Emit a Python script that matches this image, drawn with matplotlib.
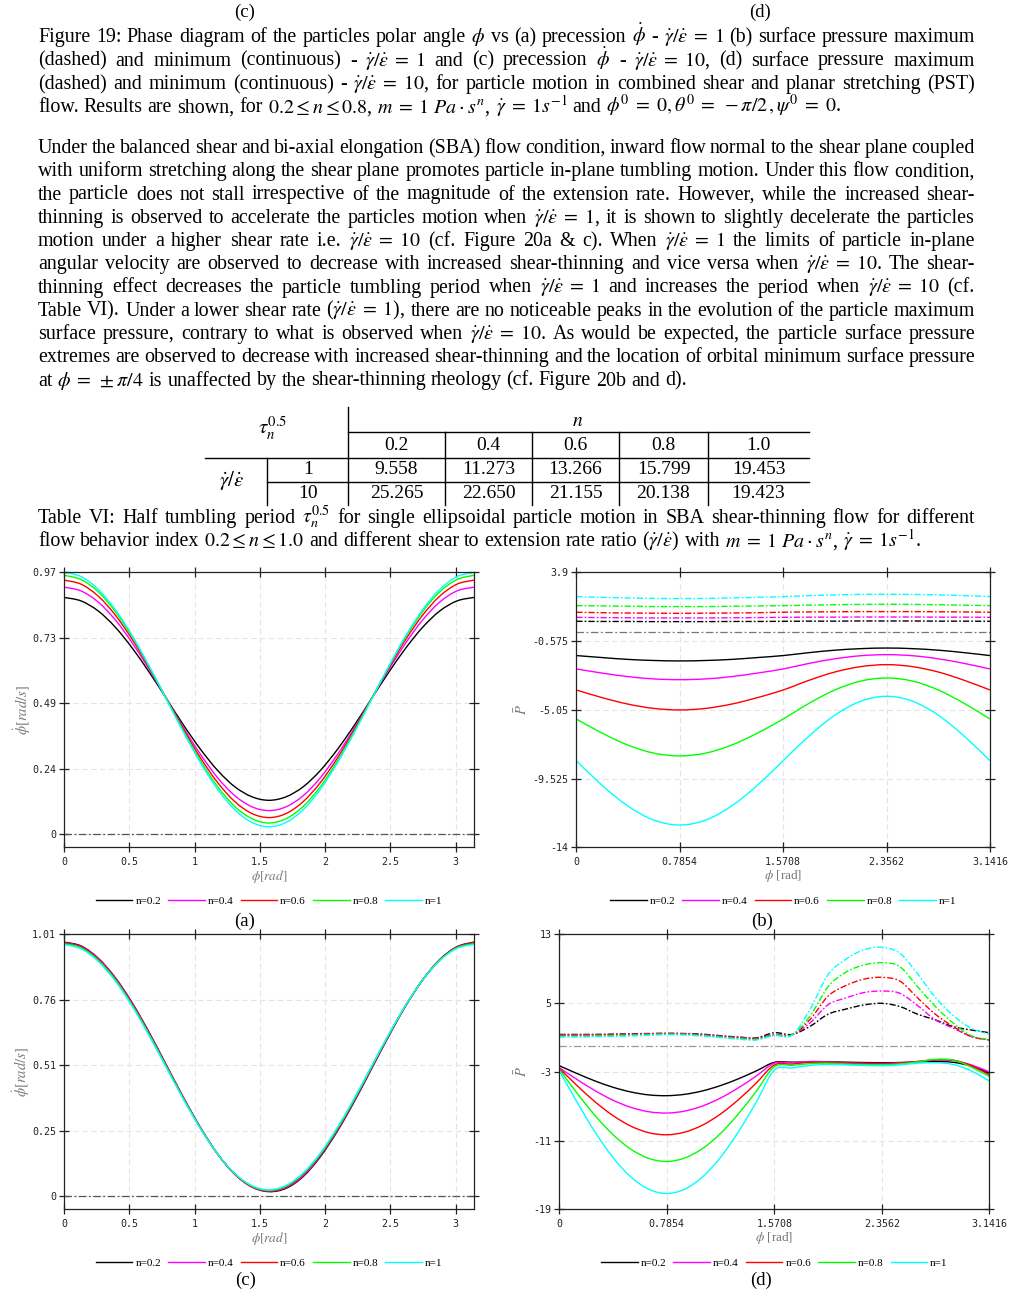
import numpy as np
import matplotlib.pyplot as plt
from matplotlib.path import Path
from matplotlib.patches import PathPatch

plt.rcParams['mathtext.fontset'] = 'stix'
plt.rcParams['font.family'] = ['Liberation Serif', 'DejaVu Serif']

W, H = 1020, 1293

# x positions (phi in rad)
phi25 = np.linspace(0, np.pi, 25)
phi17 = np.linspace(0, np.pi, 17)

n_labels = ['n=0.2', 'n=0.4', 'n=0.6', 'n=0.8', 'n=1']
n_colors = ['#000000', '#ff00ff', '#ff0000', '#00ff00', '#00ffff']

# (a) precession, gamma/eps = 1
a_n02 = [0.877, 0.864, 0.827, 0.767, 0.689, 0.599, 0.502, 0.404, 0.314, 0.236, 0.176, 0.139, 0.126,
         0.139, 0.176, 0.236, 0.314, 0.404, 0.502, 0.599, 0.689, 0.767, 0.827, 0.864, 0.877]
a_n04 = [0.915, 0.901, 0.860, 0.794, 0.708, 0.609, 0.502, 0.394, 0.295, 0.209, 0.143, 0.102, 0.088,
         0.102, 0.143, 0.209, 0.295, 0.394, 0.502, 0.609, 0.708, 0.794, 0.860, 0.901, 0.915]
a_n06 = [0.941, 0.926, 0.882, 0.812, 0.721, 0.615, 0.502, 0.388, 0.282, 0.191, 0.121, 0.077, 0.062,
         0.077, 0.121, 0.191, 0.282, 0.388, 0.502, 0.615, 0.721, 0.812, 0.882, 0.926, 0.941]
a_n08 = [0.959, 0.943, 0.898, 0.825, 0.730, 0.619, 0.501, 0.382, 0.271, 0.176, 0.103, 0.058, 0.042,
         0.058, 0.103, 0.176, 0.271, 0.382, 0.501, 0.619, 0.730, 0.825, 0.898, 0.943, 0.959]
a_n10 = [0.970, 0.954, 0.907, 0.832, 0.735, 0.621, 0.499, 0.377, 0.264, 0.166, 0.091, 0.044, 0.028,
         0.044, 0.091, 0.166, 0.264, 0.377, 0.499, 0.621, 0.735, 0.832, 0.907, 0.954, 0.970]

# (c) precession, gamma/eps = 10
c_n02 = [0.980, 0.965, 0.918, 0.843, 0.745, 0.630, 0.505, 0.380, 0.264, 0.163, 0.085, 0.036, 0.018,
         0.031, 0.076, 0.152, 0.251, 0.366, 0.491, 0.616, 0.734, 0.834, 0.913, 0.962, 0.980]
c_n04 = [0.978, 0.963, 0.917, 0.841, 0.743, 0.628, 0.503, 0.379, 0.263, 0.162, 0.085, 0.036, 0.020,
         0.034, 0.079, 0.156, 0.255, 0.370, 0.494, 0.618, 0.734, 0.834, 0.911, 0.960, 0.978]
c_n06 = [0.977, 0.961, 0.914, 0.838, 0.740, 0.625, 0.501, 0.377, 0.261, 0.162, 0.085, 0.037, 0.021,
         0.036, 0.084, 0.159, 0.258, 0.373, 0.497, 0.621, 0.736, 0.836, 0.912, 0.960, 0.977]
c_n08 = [0.974, 0.958, 0.910, 0.835, 0.736, 0.622, 0.499, 0.375, 0.261, 0.162, 0.087, 0.039, 0.023,
         0.039, 0.087, 0.162, 0.261, 0.375, 0.499, 0.622, 0.736, 0.835, 0.910, 0.958, 0.974]
c_n10 = [0.971, 0.954, 0.906, 0.830, 0.732, 0.617, 0.495, 0.373, 0.260, 0.163, 0.088, 0.041, 0.025,
         0.042, 0.090, 0.166, 0.265, 0.379, 0.501, 0.623, 0.737, 0.834, 0.909, 0.956, 0.971]

# (b) surface pressure, gamma/eps = 1 (min solid, max dash-dot)
b_min_02 = [-1.52, -1.65, -1.77, -1.84, -1.87, -1.84, -1.77, -1.65, -1.52, -1.33, -1.17, -1.07, -1.03, -1.07, -1.17, -1.33, -1.52]
b_min_04 = [-2.39, -2.66, -2.89, -3.04, -3.09, -3.04, -2.89, -2.66, -2.39, -2.03, -1.73, -1.53, -1.46, -1.53, -1.73, -2.03, -2.39]
b_min_06 = [-3.76, -4.26, -4.68, -4.96, -5.06, -4.96, -4.68, -4.26, -3.76, -3.13, -2.59, -2.24, -2.11, -2.24, -2.59, -3.13, -3.76]
b_min_08 = [-5.65, -6.57, -7.35, -7.87, -8.05, -7.87, -7.35, -6.57, -5.65, -4.63, -3.76, -3.18, -2.98, -3.18, -3.76, -4.63, -5.65]
b_min_10 = [-8.36, -9.97, -11.32, -12.23, -12.55, -12.23, -11.32, -9.97, -8.36, -6.76, -5.40, -4.49, -4.17, -4.49, -5.40, -6.76, -8.36]
b_max_02 = [0.71, 0.70, 0.70, 0.69, 0.69, 0.69, 0.70, 0.70, 0.71, 0.72, 0.72, 0.73, 0.73, 0.73, 0.72, 0.72, 0.71]
b_max_04 = [0.97, 0.95, 0.94, 0.93, 0.93, 0.93, 0.94, 0.95, 0.97, 0.98, 0.98, 0.99, 0.99, 0.99, 0.98, 0.98, 0.97]
b_max_06 = [1.30, 1.27, 1.25, 1.24, 1.23, 1.24, 1.25, 1.27, 1.30, 1.32, 1.33, 1.34, 1.34, 1.34, 1.33, 1.32, 1.30]
b_max_08 = [1.73, 1.71, 1.69, 1.67, 1.67, 1.67, 1.69, 1.71, 1.73, 1.76, 1.79, 1.81, 1.82, 1.81, 1.79, 1.76, 1.73]
b_max_10 = [2.32, 2.27, 2.23, 2.20, 2.19, 2.20, 2.23, 2.27, 2.32, 2.38, 2.43, 2.46, 2.47, 2.46, 2.43, 2.38, 2.32]

# (d) surface pressure, gamma/eps = 10
d_min_02 = [-2.29, -3.21, -4.07, -4.80, -5.35, -5.69, -5.78, -5.62, -5.22, -4.60, -3.81, -2.89, -1.90,
            -1.88, -1.86, -1.85, -1.88, -1.92, -1.94, -1.92, -1.85, -1.80, -1.90, -2.35, -3.15]
d_min_04 = [-2.52, -3.91, -5.20, -6.31, -7.14, -7.65, -7.80, -7.57, -6.97, -6.05, -4.86, -3.48, -2.00,
            -1.95, -1.80, -1.85, -1.95, -2.00, -2.02, -1.95, -1.80, -1.65, -1.70, -2.20, -3.00]
d_min_06 = [-2.60, -4.62, -6.50, -8.10, -9.33, -10.09, -10.33, -10.02, -9.20, -7.91, -6.24, -4.29, -2.21,
            -2.10, -1.90, -1.90, -2.00, -2.05, -2.08, -2.00, -1.80, -1.60, -1.65, -2.30, -3.35]
d_min_08 = [-2.72, -5.51, -8.10, -10.32, -12.02, -13.08, -13.43, -13.03, -11.92, -10.17, -7.89, -5.25, -2.41,
            -2.25, -2.05, -2.00, -2.10, -2.15, -2.18, -2.08, -1.85, -1.55, -1.65, -2.45, -3.55]
d_min_10 = [-2.87, -6.57, -10.02, -12.98, -15.25, -16.67, -17.16, -16.66, -15.22, -12.94, -9.97, -6.51, -2.80,
            -2.55, -2.25, -2.15, -2.20, -2.25, -2.29, -2.20, -2.00, -1.95, -2.15, -2.90, -4.07]
d_max_02 = [1.35, 1.35, 1.35, 1.38, 1.42, 1.45, 1.48, 1.45, 1.38, 1.20, 1.05, 0.95, 1.55,
            1.35, 2.30, 3.70, 4.30, 4.78, 4.97, 4.60, 3.70, 3.03, 2.25, 1.86, 1.55]
d_max_04 = [1.30, 1.30, 1.32, 1.35, 1.38, 1.42, 1.45, 1.42, 1.32, 1.15, 1.00, 0.90, 1.30,
            1.30, 2.70, 4.80, 5.60, 6.22, 6.40, 6.14, 4.70, 3.03, 2.06, 1.10, 0.70]
d_max_06 = [1.25, 1.25, 1.28, 1.30, 1.33, 1.38, 1.42, 1.38, 1.28, 1.10, 0.95, 0.85, 1.28,
            1.30, 3.10, 5.80, 7.05, 7.78, 7.99, 7.57, 5.60, 3.68, 2.25, 1.10, 0.70]
d_max_08 = [1.15, 1.15, 1.18, 1.22, 1.27, 1.32, 1.38, 1.33, 1.22, 1.05, 0.88, 0.78, 1.25,
            1.30, 3.50, 6.90, 8.60, 9.42, 9.70, 9.24, 6.90, 4.58, 2.64, 1.20, 0.75]
d_max_10 = [1.05, 1.05, 1.08, 1.12, 1.18, 1.25, 1.32, 1.28, 1.15, 0.98, 0.80, 0.70, 1.22,
            1.28, 4.30, 8.30, 10.10, 11.20, 11.48, 10.80, 8.40, 5.62, 3.53, 2.06, 1.40]

# tick values / labels
xt_num = [0, 0.5, 1, 1.5, 2, 2.5, 3]
xt_num_lbl = ['0', '0.5', '1', '1.5', '2', '2.5', '3']
xt_pi = [0, 0.7854, 1.5708, 2.3562, 3.1416]
xt_pi_lbl = ['0', '0.7854', '1.5708', '2.3562', '3.1416']
a_yticks = [0, 0.2425, 0.485, 0.7275, 0.97]
a_ylbl = ['0', '0.24', '0.49', '0.73', '0.97']
c_yticks = [0, 0.2525, 0.505, 0.7575, 1.01]
c_ylbl = ['0', '0.25', '0.51', '0.76', '1.01']
b_yticks = [-14, -9.525, -5.05, -0.575, 3.9]
b_ylbl = ['-14', '-9.525', '-5.05', '-0.575', '3.9']
d_yticks = [-19, -11, -3, 5, 13]
d_ylbl = ['-19', '-11', '-3', '5', '13']

# table VI
tab_n = ['0.2', '0.4', '0.6', '0.8', '1.0']
tab_ratio = ['1', '10']
tab_tau = [[9.558, 11.273, 13.266, 15.799, 19.453],
           [25.265, 22.650, 21.155, 20.138, 19.423]]

GE = r'\dot{\gamma}/\dot{\varepsilon}'
EQ = r'\;=\;'
cap19 = [
    r'Figure 19: Phase diagram of the particles polar angle $\phi$ vs (a) precession $\dot{\phi}$ - $' + GE + EQ + r'1$ (b) surface pressure maximum',
    r'(dashed) and minimum (continuous) - $' + GE + EQ + r'1$ and (c) precession $\dot{\phi}$ - $' + GE + EQ + r'10$, (d) surface pressure maximum',
    r'(dashed) and minimum (continuous) - $' + GE + EQ + r'10$, for particle motion in combined shear and planar stretching (PST)',
    r'flow. Results are shown, for $0.2\leq n\leq 0.8$, $m' + EQ + r'1\ Pa\cdot s^{n}$, $\dot{\gamma}' + EQ + r'1s^{-1}$ and $\phi^{0}' + EQ + r'0,\theta^{0}' + EQ + r'-\pi/2\,,\psi^{0}' + EQ + r'0$.',
]
para = [
    r'Under the balanced shear and bi-axial elongation (SBA) flow condition, inward flow normal to the shear plane coupled',
    r'with uniform stretching along the shear plane promotes particle in-plane tumbling motion. Under this flow condition,',
    r'the particle does not stall irrespective of the magnitude of the extension rate. However, while the increased shear-',
    r'thinning is observed to accelerate the particles motion when $' + GE + EQ + r'1$, it is shown to slightly decelerate the particles',
    r'motion under a higher shear rate i.e. $' + GE + EQ + r'10$ (cf. Figure 20a & c). When $' + GE + EQ + r'1$ the limits of particle in-plane',
    r'angular velocity are observed to decrease with increased shear-thinning and vice versa when $' + GE + EQ + r'10$. The shear-',
    r'thinning effect decreases the particle tumbling period when $' + GE + EQ + r'1$ and increases the period when $' + GE + EQ + r'10$ (cf.',
    r'Table VI). Under a lower shear rate ($' + GE + EQ + r'1$), there are no noticeable peaks in the evolution of the particle maximum',
    r'surface pressure, contrary to what is observed when $' + GE + EQ + r'10$. As would be expected, the particle surface pressure',
    r'extremes are observed to decrease with increased shear-thinning and the location of orbital minimum surface pressure',
    r'at $\phi' + EQ + r'\pm\pi/4$ is unaffected by the shear-thinning rheology (cf. Figure 20b and d).',
]
cap_tab = [
    r'Table VI: Half tumbling period $\tau_n^{0.5}$ for single ellipsoidal particle motion in SBA shear-thinning flow for different',
    r'flow behavior index $0.2\leq n\leq 1.0$ and different shear to extension rate ratio ($' + GE + r'$) with $m' + EQ + r'1\ Pa\cdot s^{n}$, $\dot{\gamma}' + EQ + r'1s^{-1}$.',
]

fig = plt.figure(figsize=(W / 100, H / 100), dpi=100)
page = fig.add_axes([0, 0, 1, 1])
page.set_xlim(0, W)
page.set_ylim(H, 0)
page.axis('off')
renderer = fig.canvas.get_renderer()


def tokens(s):
    out, cur, inm = [], '', False
    for ch in s:
        if ch == '$':
            inm = not inm
        if ch == ' ' and not inm:
            if cur:
                out.append(cur)
            cur = ''
        else:
            cur += ch
    if cur:
        out.append(cur)
    return out


def write_line(s, y, just=True, x0=38, x1=975, size=14.4):
    toks = tokens(s)
    while True:
        arts = [page.text(0, y, t, fontsize=size, va='baseline', ha='left') for t in toks]
        ws = [a.get_window_extent(renderer).width for a in arts]
        em = size * 100 / 72
        gap = em * 0.25
        if just and len(toks) > 1:
            gap = (x1 - x0 - sum(ws)) / (len(toks) - 1)
        if gap >= em * 0.17 or size < 11:
            break
        for a in arts:
            a.remove()
        size -= 0.2
    x = x0
    for a, w in zip(arts, ws):
        a.set_x(x)
        x += w + gap


# page texts
page.text(245, 17, '(c)', fontsize=13.5, ha='center', va='baseline')
page.text(760, 17, '(d)', fontsize=13.5, ha='center', va='baseline')
for i, line in enumerate(cap19):
    write_line(line, 42 + 23.5 * i, just=(i < len(cap19) - 1))
for i, line in enumerate(para):
    write_line(line, 153 + 23.25 * i, just=(i < len(para) - 1))
for i, line in enumerate(cap_tab):
    write_line(line, 523 + 23.5 * i, just=(i < len(cap_tab) - 1))

# table
col_edges = [348, 445, 532, 619, 708, 809]
lk = dict(color='black', lw=1.0)
page.plot([348, 348], [407, 505], **lk)
page.plot([267, 267], [458, 505], **lk)
page.plot([348, 809], [432, 432], **lk)
page.plot([205, 809], [458, 458], **lk)
page.plot([267, 809], [482, 482], **lk)
for xe in col_edges[1:-1]:
    page.plot([xe, xe], [432, 505], **lk)
tsz = 14
page.text(578, 421, r'$n$', fontsize=tsz, ha='center', va='center')
page.text(273, 428, r'$\tau_n^{0.5}$', fontsize=tsz + 1, ha='center', va='center')
page.text(232, 481, '$' + GE + '$', fontsize=tsz + 1, ha='center', va='center')
for j, lab in enumerate(tab_n):
    xc = (col_edges[j] + col_edges[j + 1]) / 2
    page.text(xc, 445, lab, fontsize=tsz, ha='center', va='center')
for i, r in enumerate(tab_ratio):
    yc = 470 + 24 * i
    page.text(308, yc, r, fontsize=tsz, ha='center', va='center')
    for j, v in enumerate(tab_tau[i]):
        xc = (col_edges[j] + col_edges[j + 1]) / 2
        page.text(xc, yc, '%.3f' % v, fontsize=tsz, ha='center', va='center')

# sub figure letters
page.text(245, 926, '(a)', fontsize=13.5, ha='center', va='baseline')
page.text(762, 926, '(b)', fontsize=13.5, ha='center', va='baseline')
page.text(246, 1285, '(c)', fontsize=13.5, ha='center', va='baseline')
page.text(761, 1285, '(d)', fontsize=13.5, ha='center', va='baseline')


def px_axes(x0, x1, ytop, ybot):
    return fig.add_axes([x0 / W, 1 - ybot / H, (x1 - x0) / W, (ybot - ytop) / H])


def curve(ax, x, y, color, ls='-', label=None):
    # smooth curve through the read points (Catmull-Rom drawn as cubic Bezier)
    P = np.column_stack([x, y]).astype(float)
    n = len(P)
    verts, codes = [P[0]], [Path.MOVETO]
    for i in range(n - 1):
        p0 = P[i - 1] if i > 0 else P[i]
        p1, p2 = P[i], P[i + 1]
        p3 = P[i + 2] if i + 2 < n else P[i + 1]
        verts += [p1 + (p2 - p0) / 6, p2 - (p3 - p1) / 6, p2]
        codes += [Path.CURVE4] * 3
    ax.add_patch(PathPatch(Path(verts, codes), fill=False, edgecolor=color,
                           lw=1.0, linestyle=ls, capstyle='butt', zorder=2))
    if label:
        ax.plot([], [], color=color, lw=1.0, label=label)


def style(ax, xt, xtl, yt, ytl, ylim, xlab, ylab, ylab_x, zero_col):
    ax.set_xlim(0, np.pi)
    ax.set_ylim(*ylim)
    ax.set_xticks(xt)
    ax.set_xticklabels(xtl, fontfamily='DejaVu Sans Mono')
    ax.set_yticks(yt)
    ax.set_yticklabels(ytl, fontfamily='DejaVu Sans Mono')
    ax.tick_params(direction='inout', length=6.5, width=0.9, top=True, right=True,
                   labelsize=7.2, colors='#222222')
    ax.tick_params(axis='y', pad=2.5)
    ax.tick_params(axis='x', pad=4)
    ax.grid(True, color='#e4e4e4', linestyle=(0, (5, 3)), linewidth=0.8)
    ax.set_axisbelow(True)
    for sp in ax.spines.values():
        sp.set_linewidth(0.9)
        sp.set_color('#222222')
    ax.axhline(0, color=zero_col, lw=0.9, linestyle=(0, (6, 2, 1.5, 2)), zorder=1.5)
    ax.set_xlabel(xlab, fontsize=9.5, color='#777777')
    ax.xaxis.set_label_coords(0.5, -0.075)
    ax.set_ylabel(ylab, fontsize=10.5, color='#777777', va='center')
    ax.yaxis.set_label_coords(ylab_x, 0.5)
    ax.legend(loc='center', bbox_to_anchor=(0.5, -0.194), ncol=5, frameon=False,
              fontsize=8, handlelength=3.3, handletextpad=0.25, columnspacing=0.65)


dd = (0, (4.5, 1.5, 1.2, 1.5))

# (a)
ax = px_axes(64, 474, 572.3, 847.3)
for ys, c, l in zip([a_n02, a_n04, a_n06, a_n08, a_n10], n_colors, n_labels):
    curve(ax, phi25, ys, c, label=l)
style(ax, xt_num, xt_num_lbl, a_yticks, a_ylbl, (-0.048, 0.97),
      r'$\phi[rad]$', r'$\dot{\phi}[rad/s]$', -0.102, '#555555')

# (b)
ax = px_axes(576.3, 990, 572.3, 847.3)
for ys, c, l in zip([b_min_02, b_min_04, b_min_06, b_min_08, b_min_10], n_colors, n_labels):
    curve(ax, phi17, ys, c, label=l)
for ys, c in zip([b_max_02, b_max_04, b_max_06, b_max_08, b_max_10], n_colors):
    curve(ax, phi17, ys, c, ls=dd)
style(ax, xt_pi, xt_pi_lbl, b_yticks, b_ylbl, (-14, 3.9),
      r'$\phi$ [rad]', r'$\bar{P}$', -0.132, '#777777')

# (c)
ax = px_axes(64, 474, 934.3, 1209.3)
for ys, c, l in zip([c_n02, c_n04, c_n06, c_n08, c_n10], n_colors, n_labels):
    curve(ax, phi25, ys, c, label=l)
style(ax, xt_num, xt_num_lbl, c_yticks, c_ylbl, (-0.05, 1.01),
      r'$\phi[rad]$', r'$\dot{\phi}[rad/s]$', -0.103, '#555555')

# (d)
ax = px_axes(559.3, 989.3, 934.3, 1209.3)
for ys, c, l in zip([d_min_02, d_min_04, d_min_06, d_min_08, d_min_10], n_colors, n_labels):
    curve(ax, phi25, ys, c, label=l)
for ys, c in zip([d_max_02, d_max_04, d_max_06, d_max_08, d_max_10], n_colors):
    curve(ax, phi25, ys, c, ls=dd)
style(ax, xt_pi, xt_pi_lbl, d_yticks, d_ylbl, (-19, 13),
      r'$\phi$ [rad]', r'$\bar{P}$', -0.087, '#999999')

fig.savefig('out.png', dpi=100)
